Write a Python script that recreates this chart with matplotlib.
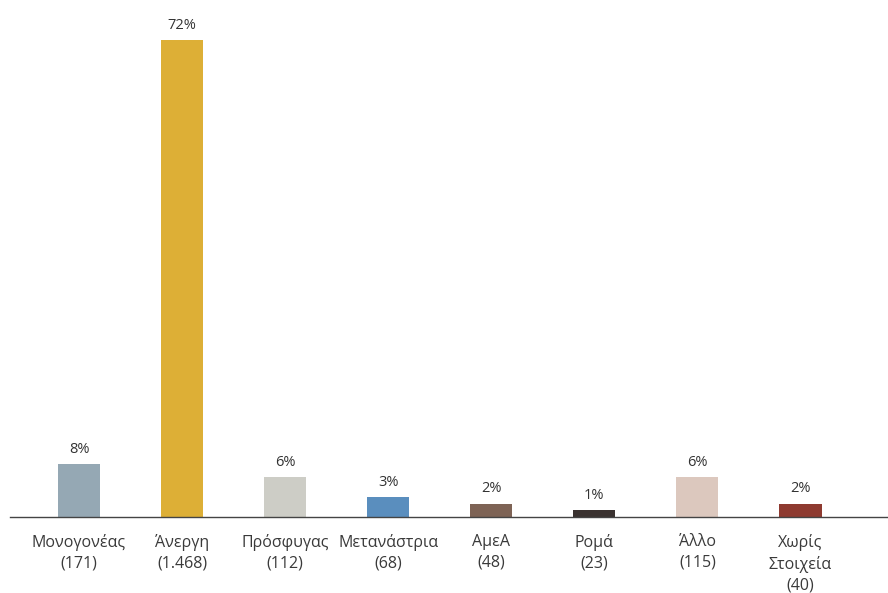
# bar chart of beneficiaries by category (share and count)
import matplotlib
matplotlib.use("Agg")
from matplotlib import pyplot as plt
import numpy as np

plt.rcParams['font.family'] = ['Open Sans', 'DejaVu Sans']

categories = ["Μονογονέας", "Άνεργη", "Πρόσφυγας", "Μετανάστρια", "ΑμεΑ", "Ρομά", "Άλλο", "Χωρίς\nΣτοιχεία"]
counts = ["171", "1.468", "112", "68", "48", "23", "115", "40"]
percents = [8, 72, 6, 3, 2, 1, 6, 2]
colors = ["#95A8B4", "#DDAF36", "#CDCDC6", "#5A8EBE", "#7E6355", "#3A3230", "#DCC8BE", "#8E3A30"]

fig = plt.figure(figsize=(8.88, 5.93), dpi=100)
ax = fig.add_axes([10/888, 76/593, 878/888, 497/593])

x = np.arange(len(categories))
bars = ax.bar(x, percents, width=0.41, color=colors)
for i in range(len(percents)):
	ax.text(x[i], percents[i] + 1.1, "%d%%" % percents[i], ha='center', va='bottom',
		fontsize=10.5, color='#333333')

ax.set_xlim(-0.67, 7.85)
ax.set_ylim(0, 75)
ax.set_xticks(x)
ax.set_xticklabels([c + "\n(" + n + ")" for c, n in zip(categories, counts)],
	fontsize=11.5, color='#3a3a3a', linespacing=1.38)
ax.tick_params(axis='x', length=0, pad=12)
ax.set_yticks([])
for s in ['top', 'right', 'left']:
	ax.spines[s].set_visible(False)
ax.spines['bottom'].set_color('#444444')
ax.spines['bottom'].set_linewidth(1.0)

fig.savefig("out.png", dpi=100, facecolor='white')
